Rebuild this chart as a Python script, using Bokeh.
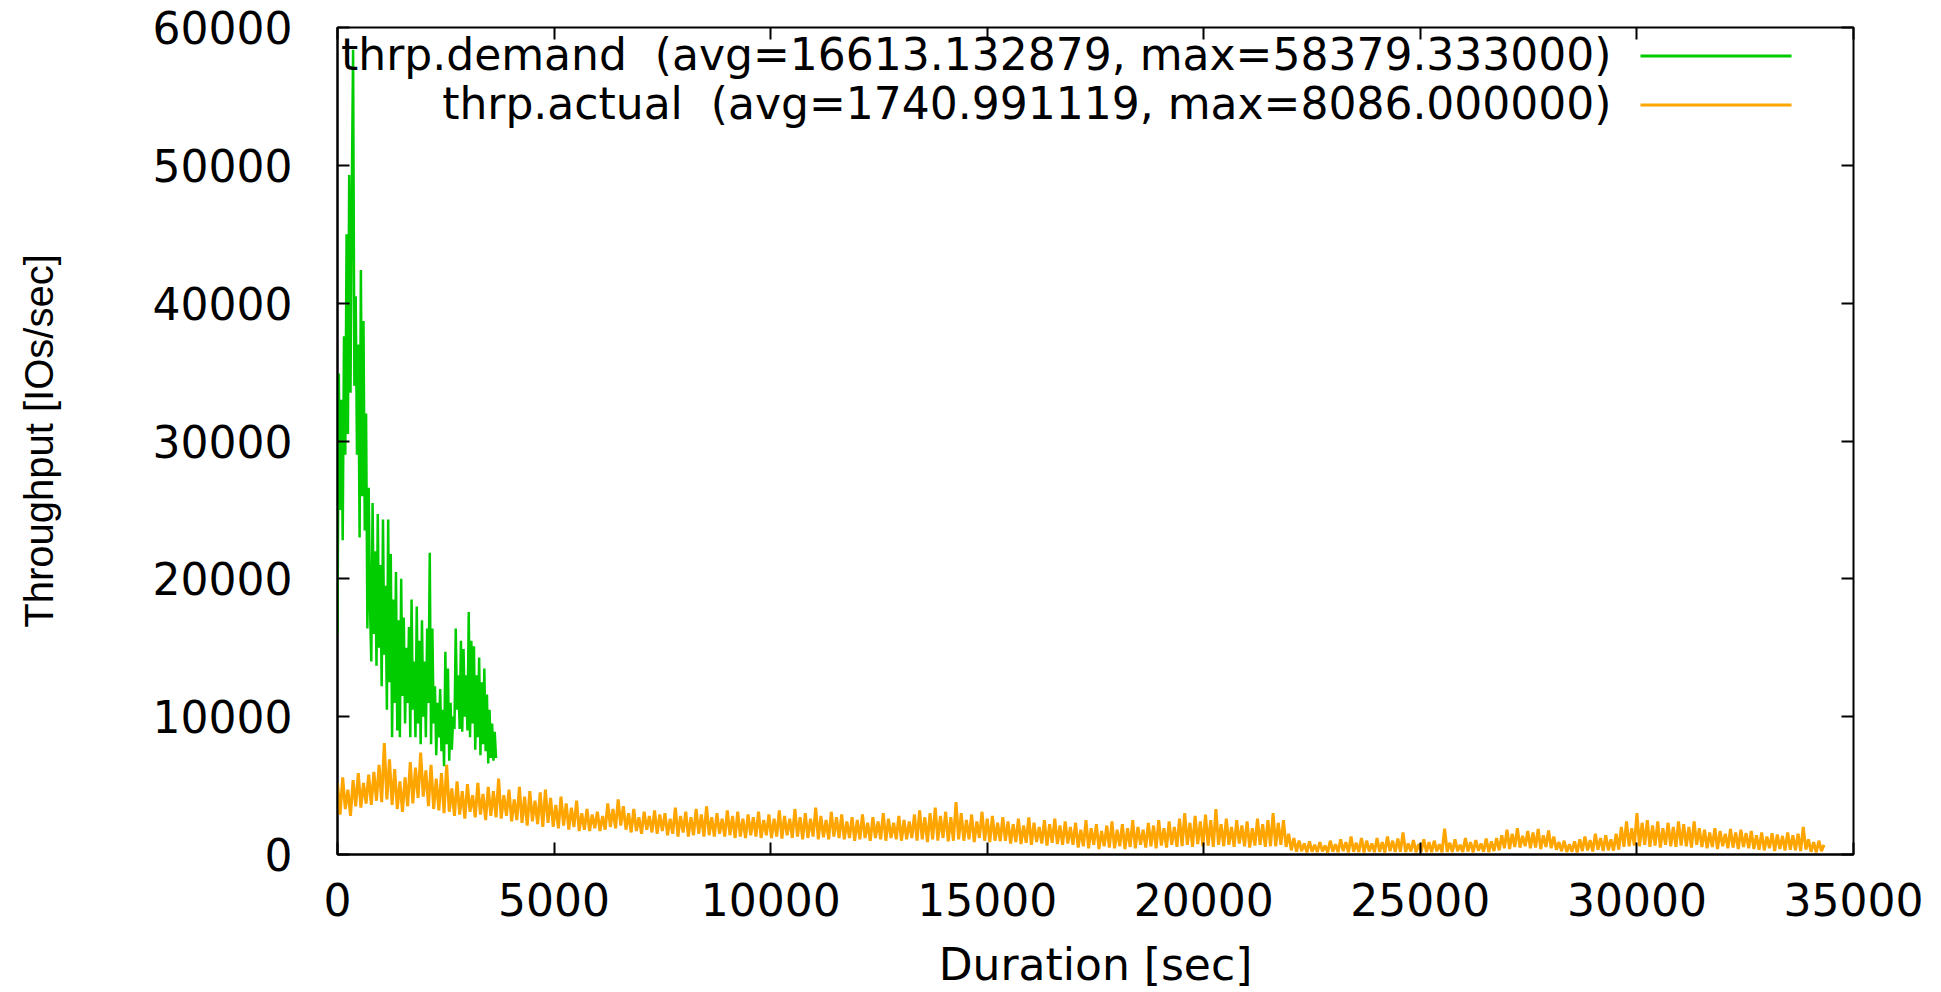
import numpy as np
from bokeh.plotting import figure
from bokeh.models import Range1d, FixedTicker, LinearAxis, Label, BoxAnnotation, BasicTickFormatter
from bokeh.embed import file_html
from bokeh.resources import INLINE

# ---------------- data ----------------
X_TICKS = [0, 5000, 10000, 15000, 20000, 25000, 30000, 35000]
Y_TICKS = [0, 10000, 20000, 30000, 40000, 50000, 60000]

X_TITLE = "Duration [sec]"
Y_TITLE = "Throughput [IOs/sec]"

SERIES_NAMES = ["thrp.demand", "thrp.actual"]
SERIES_STATS = ["(avg=16613.132879, max=58379.333000)", "(avg=1740.991119, max=8086.000000)"]

DEMAND_STEP = 30   # seconds between samples
ACTUAL_STEP = 60

demand = [
    16000, 34900, 25000, 33000, 22800, 37600, 29000, 45000, 30500, 49300,
    33500, 48000, 58379, 34000, 40500, 29000, 37000, 23000, 42400, 26000,
    38700, 23500, 32000, 16400, 26600, 18000, 14000, 25500, 16000, 22000,
    13700, 24700, 15000, 21000, 12200, 24300, 14500, 19500, 10500, 24300,
    12500, 21800, 8500, 18500, 11000, 20500, 9000, 17000, 8500, 20000,
    11500, 17200, 9500, 15000, 11000, 16500, 8500, 18500, 10500, 14000,
    8500, 18000, 9500, 15500, 8000, 17000, 10000, 14000, 8500, 16400,
    11000, 21900, 8000, 16400, 9500, 12200, 7200, 11000, 8500, 12000,
    7500, 10500, 6400, 14700, 8000, 13500, 6800, 11000, 7600, 10000,
    9100, 16400, 10500, 13000, 9100, 15500, 8900, 14900, 10000, 13000,
    9000, 17600, 8500, 15500, 9500, 15100, 7600, 13000, 8500, 14300,
    7200, 12500, 8000, 13500, 7500, 11600, 6600, 10500, 7000, 9500,
    6800, 8900, 7000,
]

actual = [
    5200, 2900, 5600, 3300, 4700, 2800, 5400, 3500, 5900, 3400, 5200, 3700, 5800, 3600, 6000, 3900, 6500, 3800, 8086, 4000,
    6900, 3600, 6200, 3300, 5300, 3100, 5600, 3500, 6700, 3700, 6300, 4100, 7400, 4200, 6100, 3500, 6500, 3300, 5500, 3200,
    5900, 3000, 6500, 3100, 4800, 2800, 5300, 2900, 4600, 2600, 5100, 3100, 4300, 2700, 5200, 2900, 4400, 2500, 4900, 2800,
    4600, 2700, 5500, 2600, 4300, 2800, 4700, 2400, 4000, 2500, 4900, 2300, 4200, 2100, 4600, 2400, 3900, 2200, 4500, 2000,
    4700, 2300, 4100, 2000, 3600, 1900, 4200, 2100, 3700, 1800, 3400, 2000, 3900, 1700, 3000, 1800, 3300, 1700, 2900, 1900,
    3100, 1700, 2800, 1800, 3700, 2000, 3300, 1900, 4000, 2100, 3500, 1800, 3000, 1600, 3300, 1700, 2700, 1500, 3100, 1800,
    2800, 1600, 3200, 1500, 2900, 1700, 3000, 1400, 2600, 1500, 3400, 1300, 2800, 1600, 3100, 1300, 2700, 1400, 3300, 1500,
    2900, 1300, 3500, 1400, 2700, 1300, 3000, 1500, 2600, 1300, 3200, 1400, 2800, 1200, 3100, 1300, 2600, 1200, 2900, 1400,
    2700, 1300, 3100, 1200, 2500, 1400, 2900, 1200, 2600, 1300, 3200, 1150, 2800, 1400, 2600, 1200, 3300, 1300, 2700, 1100,
    3000, 1200, 2600, 1300, 3400, 1100, 2800, 1250, 2500, 1100, 3100, 1300, 2700, 1200, 2900, 1100, 2400, 1200, 2700, 1000,
    2500, 1100, 2900, 1200, 2300, 1000, 2700, 1200, 2400, 1100, 3000, 1000, 2600, 1200, 2300, 1100, 2800, 1000, 2500, 1100,
    2400, 1200, 2900, 1000, 3200, 1100, 2700, 900, 3000, 1100, 3400, 1000, 2800, 1200, 3100, 950, 2700, 1000, 3800, 1100,
    3000, 1000, 2500, 1100, 2900, 900, 2400, 1200, 3100, 1000, 2600, 900, 2800, 1000, 2300, 950, 2700, 1000, 2400, 800,
    2200, 900, 2600, 750, 2100, 850, 2700, 700, 2300, 900, 2000, 800, 2500, 650, 2200, 850, 2600, 750, 2100, 700,
    2400, 800, 2000, 700, 2300, 500, 1800, 600, 2500, 450, 1900, 700, 2200, 400, 1700, 600, 2100, 500, 2400, 450,
    1800, 600, 2200, 400, 1900, 550, 2500, 450, 2000, 700, 1800, 500, 2300, 600, 2100, 450, 2500, 650, 1900, 500,
    2400, 700, 2000, 550, 2600, 600, 3000, 700, 2300, 550, 2800, 750, 2400, 600, 2900, 650, 2500, 550, 3300, 700,
    2200, 600, 2600, 700, 2000, 550, 2500, 800, 2100, 600, 2400, 500, 1900, 650, 2600, 700, 2200, 550, 2500, 600,
    3000, 600, 2300, 700, 2500, 550, 1500, 300, 1200, 200, 1000, 250, 800, 150, 950, 200, 700, 180, 900, 220,
    650, 150, 1000, 200, 750, 170, 1100, 250, 900, 160, 1300, 200, 850, 180, 1200, 150, 1000, 220, 800, 170,
    1200, 200, 900, 150, 1300, 240, 1000, 180, 1150, 200, 1600, 170, 800, 220, 1050, 160, 750, 200, 1100, 180,
    900, 170, 1000, 230, 750, 160, 1870, 200, 850, 180, 1100, 250, 700, 190, 1200, 220, 900, 160, 1050, 280,
    800, 200, 1150, 180, 950, 250, 1200, 300, 1400, 450, 1800, 400, 1500, 550, 1900, 500, 1350, 600, 1700, 450,
    1600, 500, 1850, 400, 1400, 550, 1750, 450, 1300, 350, 900, 250, 1000, 180, 750, 200, 950, 150, 1100, 250,
    1300, 300, 1050, 220, 1500, 350, 1200, 250, 1400, 300, 1100, 280, 1500, 350, 2000, 550, 2400, 600, 1900, 650,
    3000, 600, 2300, 700, 2500, 550, 2100, 650, 2400, 500, 1900, 700, 2300, 600, 2000, 550, 2400, 650, 2200, 600,
    2000, 500, 2400, 700, 1900, 550, 1800, 450, 1600, 550, 1900, 400, 1700, 600, 1500, 450, 1850, 500, 1600, 400,
    1800, 550, 1550, 450, 1700, 400, 1400, 350, 1600, 300, 1300, 450, 1550, 250, 1450, 400, 1350, 300, 1600, 350,
    1400, 300, 1500, 250, 2000, 350, 1100, 200, 900, 150, 1000, 250, 700,
]

COLORS = ["#00cc00", "#ffa500"]

demand_t = np.arange(len(demand)) * DEMAND_STEP
actual_t = np.arange(len(actual)) * ACTUAL_STEP

# ---------------- figure ----------------
W, H = 1941, 992
p = figure(width=W, height=H, output_backend="svg", toolbar_location=None,
           x_range=Range1d(0, 35000), y_range=Range1d(0, 60000),
           min_border_left=337, min_border_right=88, min_border_top=27, min_border_bottom=135)
p.background_fill_color = "white"
p.border_fill_color = "white"
p.outline_line_color = "black"
p.outline_line_width = 2
p.xgrid.visible = False
p.ygrid.visible = False

TICK_FONT = "DejaVu Sans"
TICK_SIZE = "44px"

for ax in (p.xaxis[0], p.yaxis[0]):
    ax.axis_line_color = "black"
    ax.axis_line_width = 2
    ax.major_tick_in = 12
    ax.major_tick_out = 0
    ax.major_tick_line_width = 2
    ax.minor_tick_line_color = None
    ax.major_label_text_font = TICK_FONT
    ax.major_label_text_font_size = TICK_SIZE
    ax.major_label_text_color = "black"
    ax.formatter = BasicTickFormatter(use_scientific=False)
    ax.axis_label_text_font_style = "normal"
    ax.axis_label_text_color = "black"

p.xaxis[0].ticker = FixedTicker(ticks=X_TICKS)
p.yaxis[0].ticker = FixedTicker(ticks=Y_TICKS)
p.xaxis[0].axis_label = X_TITLE
p.xaxis[0].axis_label_text_font = TICK_FONT
p.xaxis[0].axis_label_text_font_size = TICK_SIZE
p.xaxis[0].major_label_standoff = 28
p.xaxis[0].axis_label_standoff = 20
p.yaxis[0].axis_label = Y_TITLE
p.yaxis[0].axis_label_text_font = "Liberation Sans"
p.yaxis[0].axis_label_text_font_size = "40px"
p.yaxis[0].major_label_standoff = 45
p.yaxis[0].axis_label_standoff = 89

# mirror ticks (top and right), no labels
def mirror(ticks):
    return LinearAxis(ticker=FixedTicker(ticks=ticks), major_label_text_font_size="1px",
                      major_label_text_color=None, major_label_standoff=0,
                      major_tick_in=12, major_tick_out=0, major_tick_line_width=2,
                      minor_tick_line_color=None, axis_line_color=None)

p.add_layout(mirror(X_TICKS), "above")
p.add_layout(mirror(Y_TICKS), "right")

# ---------------- series ----------------
p.line(demand_t, demand, line_color=COLORS[0], line_width=2.5)
p.line(actual_t, actual, line_color=COLORS[1], line_width=3)

# ---------------- key (gnuplot style: text right-justified, sample on right) ----------------
ROW_Y = [800, 751]
for i in range(2):
    p.add_layout(Label(x=1274, y=ROW_Y[i], x_units="screen", y_units="screen",
                       text=SERIES_NAMES[i] + "\u00a0 " + SERIES_STATS[i],
                       text_align="right", text_baseline="middle",
                       text_font=TICK_FONT, text_font_size="44px", text_color="black"))
    p.add_layout(BoxAnnotation(left=1303, right=1454, bottom=ROW_Y[i] - 3, top=ROW_Y[i] + 0,
                               left_units="screen", right_units="screen",
                               bottom_units="screen", top_units="screen", level="underlay",
                               fill_color=COLORS[i], fill_alpha=1.0, line_color=None))

open("out.html", "w").write(file_html(p, INLINE))
